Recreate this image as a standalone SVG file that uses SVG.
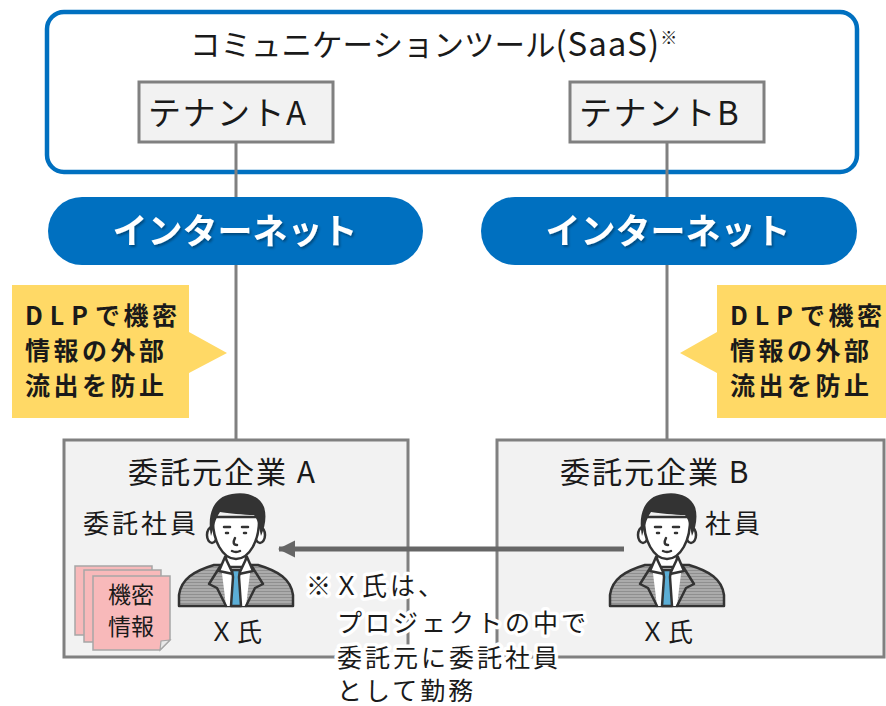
<svg xmlns="http://www.w3.org/2000/svg" xmlns:xlink="http://www.w3.org/1999/xlink" width="886" height="706" viewBox="0 0 886 706">
  <style>
    text { font-family: "Noto Sans CJK JP", "Noto Sans", sans-serif; fill: #1a1a1a; }
    .saas { fill: #ffffff; stroke: #0070C0; stroke-width: 4.5; }
    .tenant { fill: #F2F2F2; stroke: #808080; stroke-width: 3; }
    .company { fill: #F2F2F2; stroke: #808080; stroke-width: 3; }
    .net { fill: #0070C0; }
    .net-label { fill: #ffffff; font-weight: bold; font-size: 35px; text-anchor: middle; filter: url(#shadow); }
    .callout { fill: #FFD966; }
    .callout-label { font-weight: bold; font-size: 25px; letter-spacing: 3.5px; }
    .link { stroke: #808080; stroke-width: 3; fill: none; }
    .flow { stroke: #666666; stroke-width: 5; fill: none; }
    .sheet { fill: #F8B9BA; stroke: #A6A6A6; stroke-width: 1.5; }
    .ink { stroke: #333333; stroke-width: 2.5; stroke-linejoin: round; stroke-linecap: round; }
    .note { font-size: 25px; letter-spacing: 3px; stroke: #ffffff; stroke-width: 7; paint-order: stroke; stroke-linejoin: round; }
  </style>
  <defs>
    <filter id="shadow" x="-10%" y="-20%" width="120%" height="150%">
      <feDropShadow dx="1.5" dy="2" stdDeviation="1.2" flood-color="#000000" flood-opacity="0.35"/>
    </filter>
    <pattern id="suit" width="6" height="3" patternUnits="userSpaceOnUse">
      <rect width="6" height="3" fill="#ABABAB"/>
      <rect y="2" width="6" height="1" fill="#8F8F8F"/>
    </pattern>
    <marker id="head" markerWidth="4" markerHeight="4" refX="3.2" refY="2" orient="auto" markerUnits="strokeWidth">
      <path d="M0,0.3 L3.4,2 L0,3.7 Z" fill="#666666"/>
    </marker>
    <!-- business person, origin at top of hair, centred horizontally -->
    <symbol id="person" overflow="visible">
      <path class="ink" d="M-57,113 L-57,102 C-55,86 -42,78 -22,72 L22,72 C42,78 55,86 57,102 L57,113 Z" fill="url(#suit)"/>
      <path d="M-15,72 L15,72 L10,113 L-10,113 Z" fill="#ffffff"/>
      <path class="ink" d="M-15,72 L-27,91 L-19,95 L-10,113" fill="none"/>
      <path class="ink" d="M15,72 L27,91 L19,95 L10,113" fill="none"/>
      <rect class="ink" x="-10" y="55" width="20" height="19" fill="#ffffff"/>
      <path class="ink" d="M-11,64 L-17,78 L-3,81 Z" fill="#ffffff"/>
      <path class="ink" d="M11,64 L17,78 L3,81 Z" fill="#ffffff"/>
      <path class="ink" d="M-4,77 L4,77 L3,84 L5,113 L-5,113 L-3,84 Z" fill="#5BAED6" stroke-width="1.8"/>
      <ellipse class="ink" cx="-24" cy="42" rx="5" ry="8" fill="#ffffff"/>
      <ellipse class="ink" cx="24" cy="42" rx="5" ry="8" fill="#ffffff"/>
      <path class="ink" d="M-23,24 C-24,48 -13,66 0,66 C13,66 24,48 23,24 Z" fill="#ffffff"/>
      <path d="M-25,43 C-30,18 -20,3 -4,1 C10,-2 24,3 28,14 C31,23 29,34 25,43 C23,33 22,27 18,22 C8,22 -8,20 -16,19 C-21,26 -22,34 -25,43 Z" fill="#333333"/>
      <path class="ink" d="M-12,34 L-6,34 M6,34 L12,34" stroke-width="1.8" fill="none"/>
      <path class="ink" d="M-10,40 L-8,40 M8,40 L10,40" stroke-width="3" fill="none"/>
      <path class="ink" d="M-1,45 C-3,49 -3,52 1,52" stroke-width="1.8" fill="none"/>
      <path class="ink" d="M-4,58 Q0,60 4,58" stroke-width="1.8" fill="none"/>
    </symbol>
  </defs>

  <rect width="886" height="706" fill="#ffffff"/>

  <!-- SaaS container -->
  <g id="saas">
    <rect class="saas" x="47" y="12" width="810" height="160" rx="17"/>
    <text x="190" y="56" font-size="30.5">コミュニケーションツール<tspan font-size="33" letter-spacing="1">(SaaS)</tspan><tspan font-size="17" dy="-12">※</tspan></text>
  </g>

  <!-- connectors -->
  <g id="connectors">
    <line class="link" x1="236" y1="142" x2="236" y2="440"/>
    <line class="link" x1="667" y1="142" x2="667" y2="440"/>
  </g>

  <g id="tenant-a">
    <rect class="tenant" x="139" y="82" width="194" height="60"/>
    <text x="148" y="125" font-size="33" letter-spacing="1.5">テナントA</text>
  </g>
  <g id="tenant-b">
    <rect class="tenant" x="570" y="82" width="194" height="60"/>
    <text x="579" y="125" font-size="33" letter-spacing="1.5">テナントB</text>
  </g>

  <g id="internet-a">
    <rect class="net" x="48" y="197" width="375" height="68" rx="34"/>
    <text class="net-label" x="235" y="244">インターネット</text>
  </g>
  <g id="internet-b">
    <rect class="net" x="481" y="197" width="376" height="68" rx="34"/>
    <text class="net-label" x="668" y="244">インターネット</text>
  </g>

  <g id="dlp-a">
    <path class="callout" d="M12,285 L189,285 L189,332 L227,353 L189,373 L189,418 L12,418 Z"/>
    <text class="callout-label" x="25" y="325"><tspan letter-spacing="7">DLP</tspan>で機密</text>
    <text class="callout-label" x="25" y="360">情報の外部</text>
    <text class="callout-label" x="25" y="395">流出を防止</text>
  </g>
  <g id="dlp-b">
    <path class="callout" d="M717,285 L886,285 L886,418 L717,418 L717,373 L680,353 L717,332 Z"/>
    <text class="callout-label" x="730" y="325"><tspan letter-spacing="7">DLP</tspan>で機密</text>
    <text class="callout-label" x="730" y="360">情報の外部</text>
    <text class="callout-label" x="730" y="395">流出を防止</text>
  </g>

  <g id="company-a">
    <rect class="company" x="64" y="440" width="344" height="217"/>
    <text x="128" y="483" font-size="30" letter-spacing="2">委託元企業 A</text>
    <text x="83" y="533" font-size="26" letter-spacing="3">委託社員</text>
    <use xlink:href="#person" x="236" y="493"/>
    <text x="209" y="641" font-size="25" letter-spacing="3">Ｘ氏</text>
    <g id="secret-docs">
      <rect class="sheet" x="75" y="566" width="77" height="69"/>
      <rect class="sheet" x="84" y="570" width="77" height="72"/>
      <path class="sheet" d="M93,576 L170,576 L170,640 L160,650 L93,650 Z"/>
      <path d="M160,650 L161,641 L170,640 Z" fill="#E8E8E8" stroke="#A6A6A6" stroke-width="1.2"/>
      <text x="131" y="603" font-size="23" text-anchor="middle">機密</text>
      <text x="131" y="635" font-size="23" text-anchor="middle">情報</text>
    </g>
  </g>

  <g id="company-b">
    <rect class="company" x="497" y="440" width="387" height="217"/>
    <text x="560" y="483" font-size="30" letter-spacing="2">委託元企業 B</text>
    <text x="705" y="533" font-size="26" letter-spacing="3">社員</text>
    <use xlink:href="#person" x="667" y="493"/>
    <text x="640" y="641" font-size="25" letter-spacing="3">Ｘ氏</text>
  </g>

  <g id="assignment">
    <line class="flow" x1="624" y1="549" x2="279" y2="549" marker-end="url(#head)"/>
  </g>

  <g id="note">
    <text class="note" x="306" y="595">※Ｘ氏は、</text>
    <text class="note" x="337" y="632">プロジェクトの中で</text>
    <text class="note" x="337" y="667">委託元に委託社員</text>
    <text class="note" x="337" y="700">として勤務</text>
  </g>
</svg>
